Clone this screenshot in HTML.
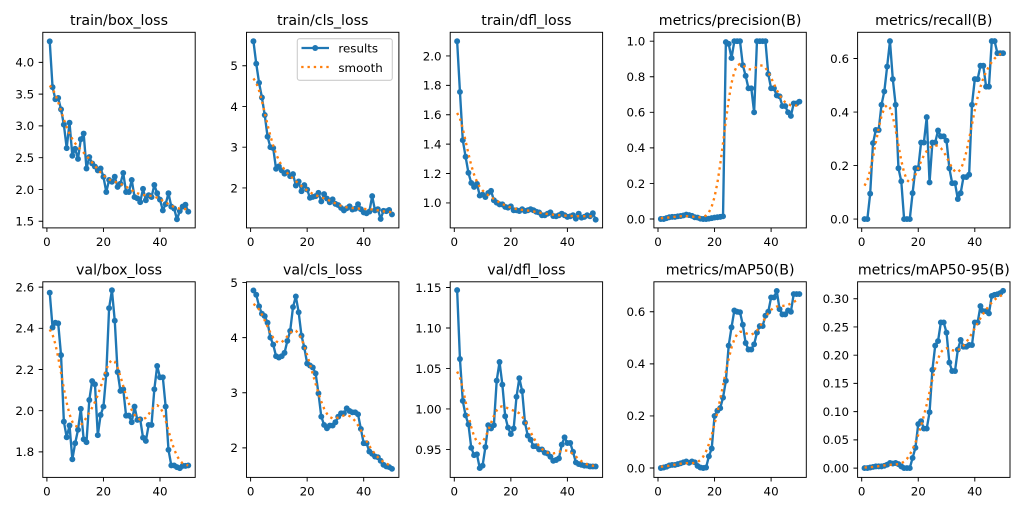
<!DOCTYPE html>
<html><head><meta charset="utf-8">
<style>
html,body{margin:0;padding:0;background:#fff;}
svg{display:block;}
text{font-family:"DejaVu Sans","Liberation Sans",sans-serif;fill:#000;}
.t{font-size:14.2px;text-anchor:middle;}
.k{font-size:11.85px;}
.y{font-size:11.85px;text-anchor:end;}
.x{font-size:11.85px;text-anchor:middle;}
</style></head><body>
<svg id="s" width="1024" height="512" viewBox="0 0 1024 512" xmlns="http://www.w3.org/2000/svg">
<defs id="defs"></defs>
<rect width="1024" height="512" fill="#fff"/>
<g id="plots"></g>
<g id="frames" fill="none" stroke="#000" stroke-width="0.95">
<rect x="42.8" y="32.3" width="152.4" height="195.6"/>
<rect x="246.5" y="32.3" width="152.4" height="195.6"/>
<rect x="450.2" y="32.3" width="152.4" height="195.6"/>
<rect x="653.9" y="32.3" width="152.4" height="195.6"/>
<rect x="857.6" y="32.3" width="152.4" height="195.6"/>
<rect x="42.8" y="281.8" width="152.4" height="195.6"/>
<rect x="246.5" y="281.8" width="152.4" height="195.6"/>
<rect x="450.2" y="281.8" width="152.4" height="195.6"/>
<rect x="653.9" y="281.8" width="152.4" height="195.6"/>
<rect x="857.6" y="281.8" width="152.4" height="195.6"/>
</g>
<g id="ticks" stroke="#000" stroke-width="0.95" fill="none"></g>

<!-- legend -->
<rect x="297.3" y="38.7" width="95" height="41.6" rx="2.4" fill="#fff" fill-opacity="0.8" stroke="#cccccc" stroke-width="1.1"/>
<line x1="301.5" y1="48" x2="329" y2="48" stroke="#1f77b4" stroke-width="2.37"/>
<circle cx="315.2" cy="48" r="2.96" fill="#1f77b4"/>
<line x1="301.2" y1="67" x2="329.3" y2="67" stroke="#ff7f0e" stroke-width="2.37" stroke-dasharray="2.37 3.91"/>
<text x="338.4" y="52.5" class="k">results</text>
<text x="338.4" y="71.8" class="k">smooth</text>

<!-- titles -->
<text x="119.0" y="25.2" class="t">train/box_loss</text>
<text x="322.7" y="25.2" class="t">train/cls_loss</text>
<text x="526.4" y="25.2" class="t">train/dfl_loss</text>
<text x="730.1" y="25.2" class="t">metrics/precision(B)</text>
<text x="933.8" y="25.2" class="t">metrics/recall(B)</text>
<text x="119.0" y="274.7" class="t">val/box_loss</text>
<text x="322.7" y="274.7" class="t">val/cls_loss</text>
<text x="526.4" y="274.7" class="t">val/dfl_loss</text>
<text x="730.1" y="274.7" class="t">metrics/mAP50(B)</text>
<text x="933.8" y="274.7" class="t">metrics/mAP50-95(B)</text>

<!-- y tick labels -->
<text x="34.2" y="66.7" class="y">4.0</text>
<text x="34.2" y="98.4" class="y">3.5</text>
<text x="34.2" y="130.2" class="y">3.0</text>
<text x="34.2" y="162.0" class="y">2.5</text>
<text x="34.2" y="193.8" class="y">2.0</text>
<text x="34.2" y="225.5" class="y">1.5</text>

<text x="237.9" y="70.0" class="y">5</text>
<text x="237.9" y="110.8" class="y">4</text>
<text x="237.9" y="151.5" class="y">3</text>
<text x="237.9" y="192.3" class="y">2</text>

<text x="441.6" y="60.3" class="y">2.0</text>
<text x="441.6" y="89.7" class="y">1.8</text>
<text x="441.6" y="119.0" class="y">1.6</text>
<text x="441.6" y="148.4" class="y">1.4</text>
<text x="441.6" y="177.8" class="y">1.2</text>
<text x="441.6" y="207.2" class="y">1.0</text>

<text x="645.3" y="45.5" class="y">1.0</text>
<text x="645.3" y="81.1" class="y">0.8</text>
<text x="645.3" y="116.6" class="y">0.6</text>
<text x="645.3" y="152.2" class="y">0.4</text>
<text x="645.3" y="187.8" class="y">0.2</text>
<text x="645.3" y="223.3" class="y">0.0</text>

<text x="849.0" y="62.8" class="y">0.6</text>
<text x="849.0" y="116.3" class="y">0.4</text>
<text x="849.0" y="169.9" class="y">0.2</text>
<text x="849.0" y="223.4" class="y">0.0</text>

<text x="34.2" y="291.5" class="y">2.6</text>
<text x="34.2" y="332.6" class="y">2.4</text>
<text x="34.2" y="373.8" class="y">2.2</text>
<text x="34.2" y="415.0" class="y">2.0</text>
<text x="34.2" y="456.2" class="y">1.8</text>

<text x="237.9" y="286.8" class="y">5</text>
<text x="237.9" y="341.9" class="y">4</text>
<text x="237.9" y="397.0" class="y">3</text>
<text x="237.9" y="452.2" class="y">2</text>

<text x="441.6" y="291.8" class="y">1.15</text>
<text x="441.6" y="332.3" class="y">1.10</text>
<text x="441.6" y="372.8" class="y">1.05</text>
<text x="441.6" y="413.3" class="y">1.00</text>
<text x="441.6" y="453.8" class="y">0.95</text>

<text x="645.3" y="316.1" class="y">0.6</text>
<text x="645.3" y="368.1" class="y">0.4</text>
<text x="645.3" y="420.2" class="y">0.2</text>
<text x="645.3" y="472.3" class="y">0.0</text>

<text x="849.0" y="303.0" class="y">0.30</text>
<text x="849.0" y="331.3" class="y">0.25</text>
<text x="849.0" y="359.5" class="y">0.20</text>
<text x="849.0" y="387.7" class="y">0.15</text>
<text x="849.0" y="415.9" class="y">0.10</text>
<text x="849.0" y="444.2" class="y">0.05</text>
<text x="849.0" y="472.4" class="y">0.00</text>

<!-- x tick labels row 1 -->
<text x="46.9" y="246" class="x">0</text><text x="103.45" y="246" class="x">20</text><text x="160.0" y="246" class="x">40</text>
<text x="250.6" y="246" class="x">0</text><text x="307.15" y="246" class="x">20</text><text x="363.7" y="246" class="x">40</text>
<text x="454.3" y="246" class="x">0</text><text x="510.85" y="246" class="x">20</text><text x="567.4" y="246" class="x">40</text>
<text x="658.0" y="246" class="x">0</text><text x="714.55" y="246" class="x">20</text><text x="771.1" y="246" class="x">40</text>
<text x="861.7" y="246" class="x">0</text><text x="918.25" y="246" class="x">20</text><text x="974.8" y="246" class="x">40</text>
<!-- x tick labels row 2 -->
<text x="46.9" y="495.5" class="x">0</text><text x="103.45" y="495.5" class="x">20</text><text x="160.0" y="495.5" class="x">40</text>
<text x="250.6" y="495.5" class="x">0</text><text x="307.15" y="495.5" class="x">20</text><text x="363.7" y="495.5" class="x">40</text>
<text x="454.3" y="495.5" class="x">0</text><text x="510.85" y="495.5" class="x">20</text><text x="567.4" y="495.5" class="x">40</text>
<text x="658.0" y="495.5" class="x">0</text><text x="714.55" y="495.5" class="x">20</text><text x="771.1" y="495.5" class="x">40</text>
<text x="861.7" y="495.5" class="x">0</text><text x="918.25" y="495.5" class="x">20</text><text x="974.8" y="495.5" class="x">40</text>
</svg>
<script>
(function(){
const NS="http://www.w3.org/2000/svg";
const Ls=[42.8,246.5,450.2,653.9,857.6],Ts=[32.3,281.8],W=152.4,H=195.6;
const A=[
[1.395,4.473,[1.5,2,2.5,3,3.5,4],[4.33,3.61,3.42,3.44,3.26,3.02,2.65,3.05,2.53,2.64,2.48,2.79,2.88,2.33,2.51,2.41,2.36,2.30,2.33,2.20,1.96,2.15,2.12,2.20,2.04,2.09,2.26,1.96,1.96,2.15,1.88,1.86,1.80,2.01,1.83,1.91,1.88,2.07,1.94,1.84,1.67,1.77,1.94,1.73,1.70,1.53,1.66,1.73,1.76,1.65]],
[1.02,5.82,[2,3,4,5],[5.60,5.05,4.58,4.22,3.79,3.26,3.00,2.98,2.47,2.53,2.43,2.35,2.39,2.29,2.34,2.06,2.16,1.92,2.07,1.96,1.76,1.78,1.80,1.88,1.67,1.85,1.74,1.65,1.72,1.61,1.58,1.51,1.45,1.50,1.55,1.47,1.49,1.60,1.48,1.40,1.38,1.42,1.80,1.45,1.48,1.24,1.44,1.43,1.46,1.35]],
[0.83,2.161,[1,1.2,1.4,1.6,1.8,2],[2.10,1.755,1.427,1.314,1.205,1.136,1.109,1.13,1.05,1.057,1.04,1.068,1.082,1.018,1.002,0.99,0.99,0.973,0.968,0.977,0.95,0.95,0.945,0.957,0.945,0.95,0.957,0.95,0.94,0.935,0.916,0.916,0.927,0.936,0.911,0.909,0.916,0.927,0.916,0.905,0.909,0.916,0.893,0.927,0.9,0.905,0.916,0.909,0.93,0.886]],
[-0.05,1.05,[0,0.2,0.4,0.6,0.8,1],[0,0,0.005,0.01,0.012,0.012,0.015,0.017,0.02,0.025,0.022,0.018,0.01,0.008,0.002,0,0,0.002,0.005,0.008,0.01,0.012,0.015,0.995,0.985,0.905,1.0,1.0,1.0,0.865,0.805,0.735,0.735,0.6,1.0,1.0,1.0,1.0,0.815,0.735,0.735,0.695,0.69,0.635,0.635,0.6,0.58,0.65,0.65,0.66]],
[-0.033,0.698,[0,0.2,0.4,0.6],[0,0,0.095,0.284,0.333,0.333,0.427,0.477,0.570,0.665,0.523,0.427,0.19,0.141,0,0,0,0.097,0.19,0.19,0.286,0.286,0.381,0.137,0.286,0.286,0.331,0.309,0.309,0.293,0.19,0.134,0.134,0.075,0.097,0.157,0.157,0.166,0.427,0.523,0.523,0.573,0.573,0.495,0.495,0.665,0.665,0.62,0.62,0.62]],
[1.676,2.626,[1.8,2,2.2,2.4,2.6],[2.573,2.404,2.427,2.424,2.27,1.947,1.871,1.928,1.764,1.842,1.907,2.009,1.861,1.847,2.052,2.144,2.128,1.881,1.979,2.02,2.177,2.498,2.585,2.437,2.188,2.096,2.104,1.976,1.976,1.944,2.02,1.955,1.958,1.869,1.853,1.931,1.931,2.104,2.217,2.162,2.162,2.02,1.81,1.734,1.734,1.726,1.721,1.732,1.732,1.734]],
[1.464,5.012,[2,3,4,5],[4.855,4.777,4.566,4.434,4.39,4.27,4.0,3.873,3.663,3.639,3.663,3.723,3.94,4.12,4.554,4.747,4.458,4.036,3.819,3.53,3.494,3.458,3.35,2.988,2.566,2.416,2.355,2.404,2.404,2.464,2.566,2.627,2.627,2.717,2.669,2.645,2.645,2.608,2.343,2.084,2.084,1.934,1.892,1.843,1.831,1.765,1.693,1.663,1.651,1.62]],
[0.9155,1.157,[0.95,1.0,1.05,1.1,1.15],[1.1467,1.0617,1.010,0.992,0.981,0.952,0.943,0.944,0.927,0.930,0.953,0.980,0.976,0.980,1.035,1.058,1.030,0.991,0.977,0.969,0.976,1.015,1.038,1.022,0.983,0.967,0.962,0.954,0.954,0.950,0.950,0.946,0.945,0.941,0.936,0.937,0.939,0.956,0.965,0.958,0.958,0.947,0.934,0.932,0.931,0.930,0.930,0.929,0.929,0.929]],
[-0.036,0.715,[0,0.2,0.4,0.6],[0,0.002,0.005,0.01,0.012,0.012,0.015,0.018,0.022,0.025,0.02,0.025,0.022,0.008,0.002,0,0.002,0.045,0.075,0.2,0.22,0.23,0.27,0.335,0.47,0.54,0.605,0.6,0.598,0.55,0.48,0.455,0.455,0.475,0.52,0.545,0.545,0.585,0.60,0.655,0.655,0.68,0.61,0.59,0.59,0.605,0.60,0.668,0.668,0.668]],
[-0.0165,0.33,[0,0.05,0.1,0.15,0.2,0.25,0.3],[0,0,0.001,0.002,0.003,0.003,0.003,0.004,0.006,0.009,0.008,0.009,0.007,0.003,0,0,0,0.018,0.036,0.078,0.083,0.07,0.07,0.099,0.174,0.217,0.225,0.258,0.258,0.24,0.187,0.172,0.172,0.21,0.227,0.215,0.215,0.218,0.218,0.258,0.258,0.287,0.278,0.278,0.274,0.305,0.307,0.308,0.31,0.314]]
];
function gauss(y,s){
  const r=Math.round(4*s),w=[];let sum=0;
  for(let k=-r;k<=r;k++){const v=Math.exp(-0.5*k*k/(s*s));w.push(v);sum+=v;}
  const n=y.length,o=[];
  for(let i=0;i<n;i++){let a=0;
    for(let k=-r;k<=r;k++){let j=i+k;
      while(j<0||j>=n){if(j<0)j=-j-1;if(j>=n)j=2*n-j-1;}
      a+=w[k+r]*y[j];}
    o.push(a/sum);}
  return o;
}
const defs=document.getElementById('defs'),plots=document.getElementById('plots'),ticks=document.getElementById('ticks');
function el(n,a,p){const e=document.createElementNS(NS,n);for(const k in a)e.setAttribute(k,a[k]);p.appendChild(e);return e;}
A.forEach(function(a,i){
  const L=Ls[i%5],T=Ts[Math.floor(i/5)],lo=a[0],hi=a[1];
  const X=function(v){return L+(v+1.45)*W/53.9;};
  const Y=function(v){return T+H*(hi-v)/(hi-lo);};
  const cp=el('clipPath',{id:'c'+i},defs);
  el('rect',{x:L,y:T,width:W,height:H},cp);
  const g=el('g',{'clip-path':'url(#c'+i+')'},plots);
  const d=a[3];
  const pts=d.map(function(v,k){return X(k+1).toFixed(2)+','+Y(v).toFixed(2);}).join(' ');
  el('polyline',{points:pts,fill:'none',stroke:'#1f77b4','stroke-width':2.37,'stroke-linejoin':'round','stroke-linecap':'square'},g);
  d.forEach(function(v,k){el('circle',{cx:X(k+1).toFixed(2),cy:Y(v).toFixed(2),r:2.96,fill:'#1f77b4'},g);});
  const s=gauss(d,3);
  const sp=s.map(function(v,k){return X(k+1).toFixed(2)+','+Y(v).toFixed(2);}).join(' ');
  el('polyline',{points:sp,fill:'none',stroke:'#ff7f0e','stroke-width':2.37,'stroke-dasharray':'2.37 3.91'},g);
  let p='';
  a[2].forEach(function(v){const y=Y(v).toFixed(2);p+='M'+(L-4.15).toFixed(2)+','+y+'H'+L;});
  [0,20,40].forEach(function(v){const x=X(v).toFixed(2);p+='M'+x+','+(T+H).toFixed(2)+'V'+(T+H+4.15).toFixed(2);});
  el('path',{d:p},ticks);
});
})();
</script>
</body></html>
